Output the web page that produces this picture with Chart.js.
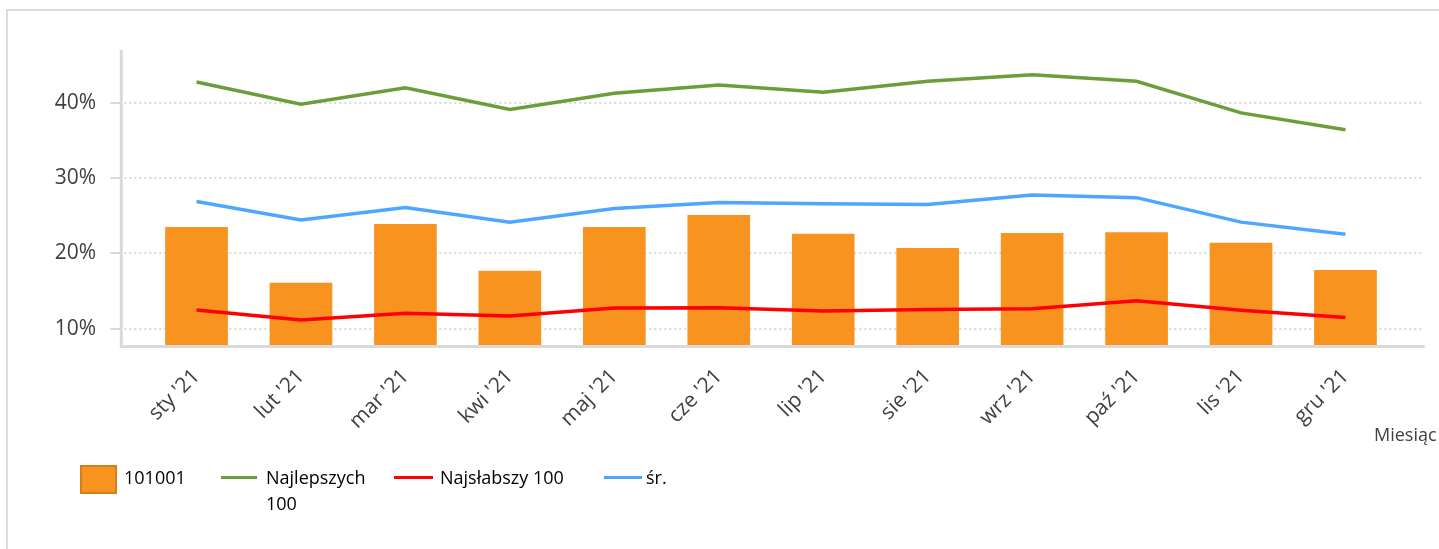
<!DOCTYPE html>
<html>
<head>
<meta charset="utf-8">
<script src="https://cdn.jsdelivr.net/npm/chart.js@4.4.0/dist/chart.umd.min.js"></script>
<style>
  html, body { margin: 0; padding: 0; background: #fff; }
  body { width: 1439px; height: 549px; position: relative; overflow: hidden; font-family: "Open Sans", sans-serif; }
  #frame { position: absolute; left: 6px; top: 9px; width: 1500px; height: 600px; border-left: 2px solid #dcdcdc; border-top: 2px solid #dcdcdc; }
  #chartBox { position: absolute; left: 0; top: 0; width: 1439px; height: 549px; }
  .lg { position: absolute; font-size: 18px; color: #000; line-height: 26px; }
  .lgBox { position: absolute; box-sizing: border-box; width: 37px; height: 29px; top: 465px; border: 2px solid #d4801a; }
  .lgLine { position: absolute; height: 3px; top: 476px; }
  #axisTitle { position: absolute; left: 1374px; top: 421px; font-size: 18px; color: #404040; line-height: 26px; white-space: nowrap; }
</style>
</head>
<body>
<div id="frame"></div>
<div id="chartBox"><canvas id="chart" width="1439" height="549"></canvas></div>
<div id="axisTitle">Miesiąc</div>
<div id="legend"></div>
<script>
// Months (x categories)
const months = ["sty '21", "lut '21", "mar '21", "kwi '21", "maj '21", "cze '21",
                "lip '21", "sie '21", "wrz '21", "paź '21", "lis '21", "gru '21"];

// Series values in percent
const unit101001 = [23.5, 16.1, 23.9, 17.7, 23.5, 25.1, 22.6, 20.7, 22.7, 22.8, 21.4, 17.8];
const best100 = [42.75, 39.8, 42.0, 39.1, 41.25, 42.35, 41.4, 42.85, 43.7, 42.85, 38.65, 36.4];
const worst100 = [12.5, 11.15, 12.05, 11.7, 12.75, 12.8, 12.35, 12.55, 12.65, 13.7, 12.45, 11.5];
const average = [26.9, 24.45, 26.1, 24.15, 25.95, 26.75, 26.6, 26.5, 27.75, 27.4, 24.15, 22.55];

// Series names
const seriesNames = ["101001", "Najlepszych\n100", "Najsłabszy 100", "śr."];

const orange = '#f7931e';
const green = '#6b9e3b';
const red = '#ff0000';
const blue = '#4da6ff';
const axisGray = '#d9d9d9';

// Axis lines and dotted gridlines run a bit wider than the category band
const axisLines = {
    id: 'axisLines',
    beforeDatasetsDraw(chart) {
        const { ctx, chartArea, scales: { y } } = chart;
        const left = chartArea.left - 23;
        const right = chartArea.right + 27;
        ctx.save();
        ctx.lineWidth = 2;
        ctx.strokeStyle = axisGray;
        y.ticks.forEach(t => {
            const py = Math.round(y.getPixelForValue(t.value));
            ctx.setLineDash([2, 3]);
            ctx.beginPath();
            ctx.moveTo(left + 3, py);
            ctx.lineTo(right - 3, py);
            ctx.stroke();
            ctx.setLineDash([]);
            ctx.beginPath();
            ctx.moveTo(left - 11, py);
            ctx.lineTo(left, py);
            ctx.stroke();
        });
        ctx.restore();
    },
    afterDatasetsDraw(chart) {
        const { ctx, chartArea } = chart;
        const left = chartArea.left - 23;
        const right = chartArea.right + 27;
        ctx.save();
        ctx.lineWidth = 3;
        ctx.strokeStyle = axisGray;
        ctx.beginPath();
        ctx.moveTo(left, chartArea.top);
        ctx.lineTo(left, chartArea.bottom + 1.5);
        ctx.lineTo(right, chartArea.bottom + 1.5);
        ctx.stroke();
        ctx.restore();
    }
};

const ctx = document.getElementById('chart').getContext('2d');
const chart = new Chart(ctx, {
    type: 'bar',
    data: {
        labels: months,
        datasets: [
            {
                label: seriesNames[0],
                data: unit101001,
                backgroundColor: orange,
                borderWidth: 0,
                categoryPercentage: 0.6,
                barPercentage: 1,
                order: 5
            },
            {
                type: 'line',
                label: seriesNames[1],
                data: best100,
                borderColor: green,
                borderWidth: 3.5,
                pointRadius: 0,
                tension: 0,
                order: 3
            },
            {
                type: 'line',
                label: seriesNames[2],
                data: worst100,
                borderColor: red,
                borderWidth: 3.5,
                pointRadius: 0,
                tension: 0,
                order: 1
            },
            {
                type: 'line',
                label: seriesNames[3],
                data: average,
                borderColor: blue,
                borderWidth: 3.5,
                pointRadius: 0,
                tension: 0,
                order: 2
            }
        ]
    },
    options: {
        responsive: false,
        animation: false,
        layout: { padding: { left: 0, top: 50, right: 41.3, bottom: 0 } },
        plugins: {
            legend: { display: false },
            tooltip: { enabled: false }
        },
        scales: {
            x: {
                offset: true,
                afterFit: axis => { axis.height = 204; },
                grid: { display: false },
                border: { display: false },
                ticks: {
                    autoSkip: false,
                    minRotation: 45,
                    maxRotation: 45,
                    padding: 11,
                    color: '#404040',
                    font: { family: 'Open Sans', size: 21 }
                }
            },
            y: {
                min: 7.84,
                max: 47,
                afterFit: axis => { axis.width = 144.3; },
                grid: {
                    display: true,
                    drawOnChartArea: false,
                    color: 'transparent',
                    tickColor: 'transparent',
                    tickLength: 34.3
                },
                border: { display: false },
                ticks: {
                    stepSize: 10,
                    includeBounds: false,
                    padding: 14,
                    color: '#404040',
                    font: { family: 'Open Sans', size: 21 },
                    callback: v => v + '%'
                }
            }
        }
    },
    plugins: [axisLines]
});

// Custom legend (one entry wraps to two lines)
const legendLeft = [80, 221, 394, 604];
const legendLineWidth = [37, 36, 39, 38];
const legendTextLeft = [124, 266, 440, 646];
const legend = document.getElementById('legend');
chart.data.datasets.forEach((ds, i) => {
    const mark = document.createElement('div');
    if (ds.type === 'line') {
        mark.className = 'lgLine';
        mark.style.background = ds.borderColor;
    } else {
        mark.className = 'lgBox';
        mark.style.background = ds.backgroundColor;
    }
    mark.style.left = legendLeft[i] + 'px';
    mark.style.width = legendLineWidth[i] + 'px';
    legend.appendChild(mark);

    const text = document.createElement('div');
    text.className = 'lg';
    text.style.left = legendTextLeft[i] + 'px';
    text.style.top = '464px';
    text.innerHTML = ds.label.replace('\n', '<br>');
    legend.appendChild(text);
});
</script>
</body>
</html>
